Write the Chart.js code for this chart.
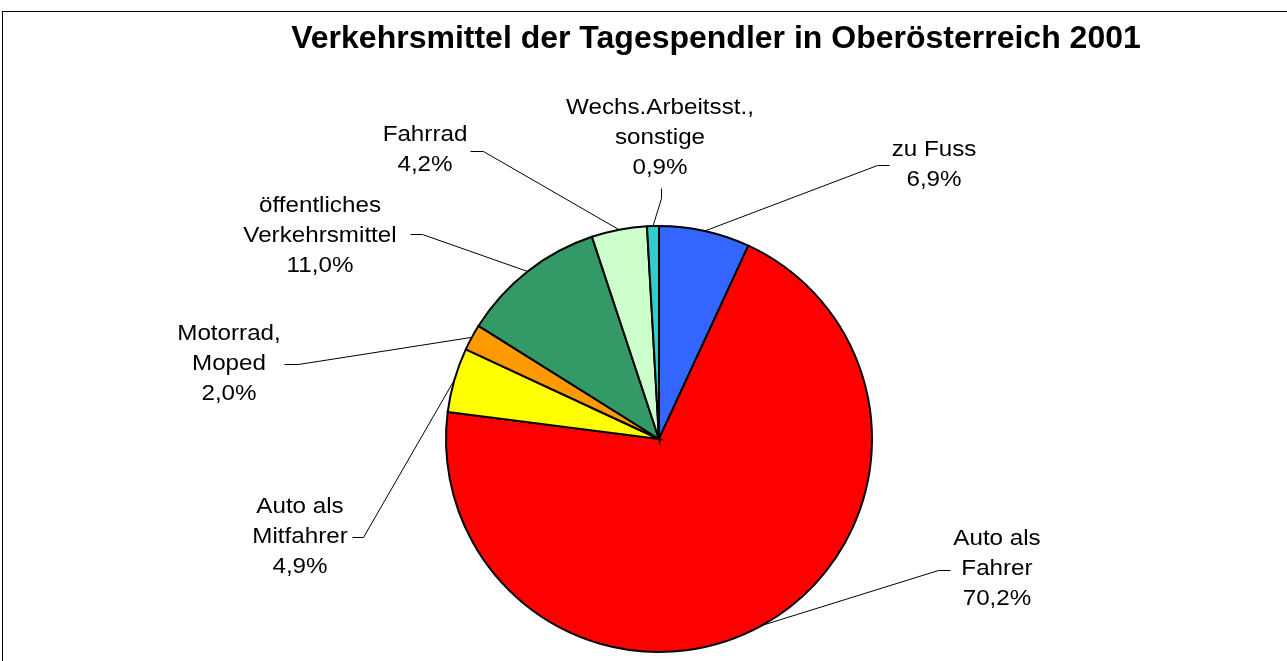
<!DOCTYPE html>
<html>
<head>
<meta charset="utf-8">
<title>Verkehrsmittel der Tagespendler</title>
<script src="https://cdn.jsdelivr.net/npm/chart.js@4/dist/chart.umd.min.js"></script>
<style>
  html, body { margin: 0; padding: 0; background: #fff; }
  #wrap { width: 1287px; height: 661px; position: relative; }
</style>
</head>
<body>
<div id="wrap"><canvas id="pie" width="1287" height="661"></canvas></div>
<script>
// --- data ---
const TITLE = 'Verkehrsmittel der Tagespendler in Oberösterreich 2001';
const categories = [
  ['zu Fuss'],
  ['Auto als', 'Fahrer'],
  ['Auto als', 'Mitfahrer'],
  ['Motorrad,', 'Moped'],
  ['öffentliches', 'Verkehrsmittel'],
  ['Fahrrad'],
  ['Wechs.Arbeitsst.,', 'sonstige'],
];
const shares = [6.9, 70.2, 4.9, 2.0, 11.0, 4.2, 0.9];
const sliceColors = ['#3366FF', '#FF0000', '#FFFF00', '#FF9900', '#339966', '#CCFFCC', '#33CCCC'];

// label placement: text centre + leader elbow/end (layout only)
const labelLayout = [
  { cx: 934, cy: 165, elbow: [877, 165], end: [889, 165] },
  { cx: 997, cy: 569, elbow: [938, 570], end: [950, 570] },
  { cx: 300, cy: 537, elbow: [363, 537], end: [352, 537] },
  { cx: 229, cy: 364, elbow: [298, 364], end: [284, 364] },
  { cx: 320, cy: 236, elbow: [422, 234], end: [410, 234] },
  { cx: 425, cy: 150, elbow: [483, 151], end: [470, 151] },
  { cx: 660, cy: 138, elbow: [661, 198], end: [661, 188] },
];

const FONT = '"Liberation Sans", Arial, sans-serif';
const LINE_H = 30;
const TEXT_STRETCH = 1.1; // labels in the original run a bit wider than Arial

const fmtPct = v => v.toFixed(1).replace('.', ',') + '%';

function wideText(ctx, text, x, y, sx) {
  ctx.save();
  ctx.translate(x, y);
  ctx.scale(sx, 1);
  ctx.fillText(text, 0, 0);
  ctx.restore();
}

// draws frame, title, leader lines and labels
const excelLabels = {
  id: 'excelLabels',
  afterDatasetsDraw(chart) {
    const ctx = chart.ctx;
    const arcs = chart.getDatasetMeta(0).data;
    ctx.save();

    // frame
    ctx.strokeStyle = '#000';
    ctx.lineWidth = 1;
    ctx.strokeRect(2.5, 11.5, 1400, 800);

    // title
    ctx.fillStyle = '#000';
    ctx.font = 'bold 32px ' + FONT;
    ctx.textAlign = 'center';
    ctx.textBaseline = 'middle';
    ctx.fillText(TITLE, 716, 39);

    // leaders
    ctx.lineWidth = 1;
    ctx.strokeStyle = '#000';
    arcs.forEach((arc, i) => {
      const p = arc.getProps(['x', 'y', 'startAngle', 'endAngle', 'outerRadius'], true);
      const mid = (p.startAngle + p.endAngle) / 2;
      const sx = p.x + Math.cos(mid) * p.outerRadius;
      const sy = p.y + Math.sin(mid) * p.outerRadius;
      const L = labelLayout[i];
      ctx.beginPath();
      ctx.moveTo(sx, sy);
      ctx.lineTo(L.elbow[0] + 0.5, L.elbow[1] + 0.5);
      ctx.lineTo(L.end[0] + 0.5, L.end[1] + 0.5);
      ctx.stroke();
    });

    // label texts
    ctx.font = '22px ' + FONT;
    ctx.fillStyle = '#000';
    categories.forEach((lines, i) => {
      const all = lines.concat([fmtPct(shares[i])]);
      const L = labelLayout[i];
      const top = L.cy - (all.length - 1) * LINE_H / 2;
      all.forEach((t, k) => wideText(ctx, t, L.cx, top + k * LINE_H, TEXT_STRETCH));
    });
    ctx.restore();
  }
};

new Chart(document.getElementById('pie'), {
  type: 'pie',
  data: {
    labels: categories.map(c => c.join(' ')),
    datasets: [{
      data: shares,
      backgroundColor: sliceColors,
      borderColor: '#000',
      borderWidth: 2,
      borderJoinStyle: 'miter'
    }]
  },
  options: {
    responsive: false,
    animation: false,
    layout: { padding: { top: 225, bottom: 8, left: 445, right: 414 } },
    plugins: {
      legend: { display: false },
      tooltip: { enabled: false },
      title: { display: false }
    }
  },
  plugins: [excelLabels]
});
</script>
</body>
</html>
